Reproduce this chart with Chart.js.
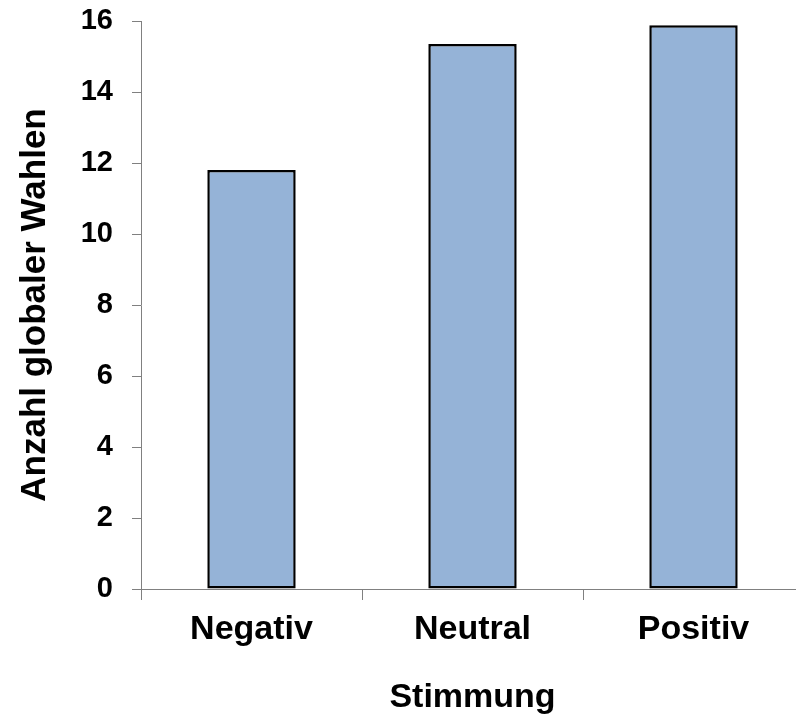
<!DOCTYPE html>
<html>
<head>
<meta charset="utf-8">
<script src="https://cdn.jsdelivr.net/npm/chart.js@4/dist/chart.umd.min.js"></script>
<style>
  html, body { margin: 0; padding: 0; background: #fff; overflow: hidden; }
  #wrap { width: 806px; height: 719px; position: relative; }
</style>
</head>
<body>
<div id="wrap"><canvas id="chart"></canvas></div>
<script>
// Data
const categories = ['Negativ', 'Neutral', 'Positiv'];
const values = [11.8, 15.35, 15.88];
const yTicks = [0, 2, 4, 6, 8, 10, 12, 14, 16];

const FONT = "'Liberation Sans', Arial, sans-serif";
const AXIS_GREY = '#808080';

const ctx = document.getElementById('chart').getContext('2d');

new Chart(ctx, {
  type: 'bar',
  data: {
    labels: categories,
    datasets: [
      {
        data: values,
        backgroundColor: '#95b3d7',
        borderColor: '#000000',
        borderWidth: 2.5,
        borderSkipped: false,
        categoryPercentage: 1.0,
        barPercentage: 0.4,
      },
    ],
  },
  options: {
    responsive: true,
    maintainAspectRatio: false,
    animation: false,
    layout: { padding: { top: 21, right: 2, left: 0, bottom: 0 } },
    plugins: {
      legend: { display: false },
      tooltip: { enabled: false },
    },
    scales: {
      x: {
        grid: {
          offset: true,
          drawOnChartArea: false,
          drawTicks: true,
          tickLength: 11,
          color: AXIS_GREY,
        },
        border: { display: true, color: AXIS_GREY, width: 1 },
        ticks: {
          color: '#000',
          padding: 9,
          font: { family: FONT, size: 34, weight: 'bold' },
        },
        title: {
          display: true,
          text: 'Stimmung',
          color: '#000',
          padding: { top: 0, bottom: 1 },
          font: { family: FONT, size: 34, weight: 'bold' },
        },
        afterFit: (scale) => {
          scale.height = 130;
          scale.paddingLeft = 0;
          scale.paddingRight = 0;
        },
      },
      y: {
        min: 0,
        max: 16,
        afterBuildTicks: (scale) => {
          scale.ticks = yTicks.map(v => ({ value: v }));
        },
        grid: {
          drawOnChartArea: false,
          drawTicks: true,
          tickLength: 9,
          color: AXIS_GREY,
        },
        border: { display: true, color: AXIS_GREY, width: 1 },
        ticks: {
          color: '#000',
          padding: 19,
          font: { family: FONT, size: 29, weight: 'bold' },
        },
        title: {
          display: true,
          text: 'Anzahl globaler Wahlen',
          color: '#000',
          padding: { top: 14, bottom: 0 },
          font: { family: FONT, size: 35, weight: 'bold' },
        },
        afterFit: (scale) => {
          scale.width = 141;
          scale.paddingTop = 0;
          scale.paddingBottom = 0;
        },
      },
    },
  },
});
</script>
</body>
</html>
